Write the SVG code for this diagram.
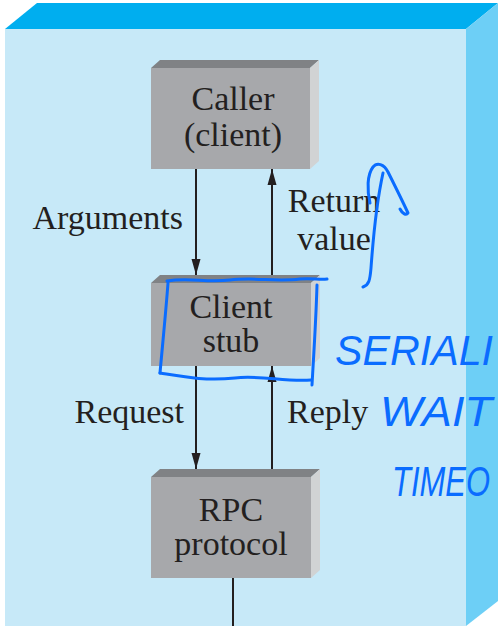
<svg xmlns="http://www.w3.org/2000/svg" width="498" height="626" viewBox="0 0 498 626">
  <defs>
    <marker id="head" viewBox="0 0 16 10" refX="16" refY="5" markerWidth="16" markerHeight="10" markerUnits="userSpaceOnUse" orient="auto">
      <path d="M0,0.5 L16,5 L0,9.5 Z" fill="#231f20"/>
    </marker>
    <style>
      .lbl { font-family: "Liberation Serif", "Times New Roman", serif; font-size: 34px; fill: #231f20; }
      .mid { text-anchor: middle; }
      .front { fill: #a7a8ab; }
      .top { fill: #808285; }
      .side { fill: #d1d3d4; }
      .wire { stroke: #231f20; stroke-width: 2; fill: none; }
      .ink { stroke: #0a6cff; stroke-width: 3; fill: none; stroke-linecap: round; stroke-linejoin: round; }
      .hand { font-family: "Liberation Sans", Arial, sans-serif; font-style: italic; font-size: 42px; fill: #0a6cff; }
    </style>
  </defs>

  <rect width="498" height="626" fill="#ffffff"/>

  <!-- enclosing machine block -->
  <g id="machine">
    <polygon points="5,29 37,3 498,3 466,29" fill="#00aeef"/>
    <polygon points="466,29 498,3 498,601 466,626" fill="#6dcff6"/>
    <rect x="5" y="29" width="461" height="597" fill="#c7e9f8"/>
  </g>

  <!-- caller -->
  <g id="caller">
    <polygon class="top" points="151,68 160,60 319,60 310,68"/>
    <polygon class="side" points="310,68 319,60 319,161 310,169"/>
    <rect class="front" x="151" y="68" width="159" height="101"/>
    <text class="lbl mid" x="233" y="110">Caller</text>
    <text class="lbl mid" x="233" y="146">(client)</text>
  </g>

  <!-- client stub -->
  <g id="stub">
    <polygon class="top" points="151,283 160,275 320,275 311,283"/>
    <polygon class="side" points="311,283 320,275 320,358 311,366"/>
    <rect class="front" x="151" y="283" width="160" height="83"/>
    <text class="lbl mid" x="231" y="318">Client</text>
    <text class="lbl mid" x="231" y="352">stub</text>
  </g>

  <!-- rpc protocol -->
  <g id="rpc">
    <polygon class="top" points="151,477 160,469 320,469 311,477"/>
    <polygon class="side" points="311,477 320,469 320,570 311,578"/>
    <rect class="front" x="151" y="477" width="160" height="101"/>
    <text class="lbl mid" x="231" y="521">RPC</text>
    <text class="lbl mid" x="231" y="555">protocol</text>
  </g>

  <!-- connectors -->
  <g id="connectors">
    <line class="wire" x1="196" y1="169" x2="196" y2="275" marker-end="url(#head)"/>
    <line class="wire" x1="272" y1="275" x2="272" y2="169" marker-end="url(#head)"/>
    <line class="wire" x1="196" y1="366" x2="196" y2="469" marker-end="url(#head)"/>
    <line class="wire" x1="272" y1="469" x2="272" y2="366" marker-end="url(#head)"/>
    <line class="wire" x1="233" y1="578" x2="233" y2="626"/>
  </g>

  <!-- connector labels -->
  <g id="labels">
    <text class="lbl" x="183" y="229" text-anchor="end">Arguments</text>
    <text class="lbl mid" x="334" y="212">Return</text>
    <text class="lbl mid" x="334" y="250">value</text>
    <text class="lbl" x="184" y="423" text-anchor="end">Request</text>
    <text class="lbl" x="287" y="423">Reply</text>
  </g>

  <!-- pen annotations -->
  <g id="annotations">
    <path class="ink" d="M167,281 C190,277 205,283 230,280 C255,277 275,282 300,279 C312,278 320,280 327,279"/>
    <path class="ink" d="M168,283 C166,310 163,340 160,373"/>
    <path class="ink" d="M160,373 C185,377 205,381 235,378 C260,375 285,382 311,380"/>
    <path class="ink" d="M317,285 C316,320 314,350 312,385"/>
    <path class="ink" d="M363,287 C369,285 370,280 371,268 C373,240 376,205 383,173"/>
    <path class="ink" d="M370,203 C367,190 367,175 373,167 C377,162 384,164 388,172 C395,186 402,200 408,213 C406,216 402,213 400,209"/>
    <text class="hand" x="335" y="365" textLength="158" lengthAdjust="spacingAndGlyphs">SERIALI</text>
    <text class="hand" x="380" y="426" textLength="112" lengthAdjust="spacingAndGlyphs">WAIT</text>
    <text class="hand" x="392" y="496" font-size="40" textLength="98" lengthAdjust="spacingAndGlyphs">TIMEO</text>
  </g>
</svg>
